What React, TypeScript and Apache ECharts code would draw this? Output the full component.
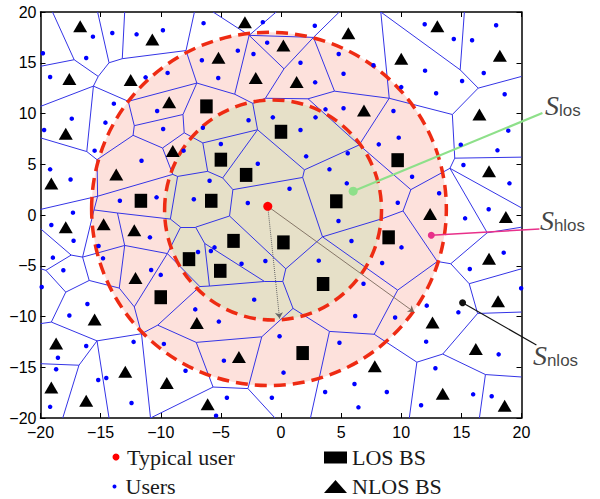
import { useEffect, useRef } from "react";
import * as echarts from "echarts";

// ---- data (all in plot units, metres) ----

const typicalUser: [number, number] = [-1.1, 0.85];

// LOS base stations
const losBS: [number, number][] = [
  [-6.2, 10.7], [0.0, 8.2], [-5.0, 5.45], [-2.9, 3.95], [-5.8, 1.4], [-11.65, 1.4],
  [9.7, 5.4], [4.6, 1.35], [-3.95, -2.55], [-7.65, -4.35], [-5.05, -5.5], [-10.0, -8.1],
  [0.2, -2.7], [8.95, -2.2], [3.5, -6.8], [1.8, -13.6],
];

// NLOS base stations
const nlosBS: [number, number][] = [
  [-16.7, 18.6], [-10.7, 17.3], [-3.0, 19.0], [-17.6, 13.4], [-12.5, 13.3], [-5.2, 15.5],
  [-2.1, 13.5], [-9.3, 11.1], [-17.9, 8.0], [-9.0, 6.3], [-13.7, 4.0], [-19.1, 3.1],
  [0.2, 16.7], [5.6, 17.9], [13.0, 18.6], [1.3, 13.1], [10.0, 15.4], [18.2, 15.7],
  [6.9, 10.3], [16.5, 9.9], [17.3, 4.3],
  [-17.9, -1.2], [-14.75, -0.9], [-12.2, -1.5], [-12.1, -6.2], [-15.5, -10.3], [-18.7, -12.65],
  [-7.0, -10.65], [-3.5, -14.0], [-12.95, -15.45], [-9.5, -16.55], [-19.1, -17.0], [-16.2, -18.3],
  [-6.1, -18.65],
  [12.4, 0.1], [18.7, -0.2], [17.3, -4.3], [18.05, -8.5], [12.6, -10.6], [16.2, -13.2],
  [7.8, -14.9], [13.45, -17.6], [18.6, -18.8],
];

// user positions
const users: [number, number][] = [
  [-19.8, 15.93], [-15.64, 17.57], [-14.03, 17.93], [-12.01, 17.8], [-9.82, 18.2], [-6.44, 18.9],
  [-16.2, 15.47], [-19.2, 13.6], [-11.26, 13.56], [-9.43, 14.0], [-6.58, 15.24], [-5.22, 13.5],
  [-3.59, 16.19], [-2.29, 15.86], [-1.51, 19.0], [-1.15, 16.98], [-19.7, 8.37], [-17.4, 9.49],
  [-13.9, 10.97], [-14.6, 9.1], [-10.3, 10.25], [-9.8, 8.47], [-6.5, 8.6], [-5.0, 7.0], [-2.7, 9.33],
  [-0.68, 9.62], [-15.5, 6.34], [-11.6, 5.35], [-8.1, 6.34], [-19.2, 4.5], [-17.5, 3.5],
  [-1.93, 5.05], [-5.94, 3.38], [-13.4, 1.41], [-10.35, 1.74], [-7.25, 1.55], [-2.76, 1.18],
  [-17.3, 0.23],
  [2.81, 18.65], [11.95, 18.79], [14.37, 17.34], [15.89, 17.21], [17.89, 18.69], [4.8, 15.86],
  [1.62, 15.0], [5.2, 13.92], [2.84, 13.07], [7.69, 14.75], [11.98, 14.22], [15.06, 13.2],
  [16.86, 13.99], [10.0, 12.6], [12.9, 11.99], [18.6, 11.89], [3.7, 10.41], [5.2, 10.51],
  [2.87, 9.62], [1.62, 8.37], [9.35, 10.25], [9.79, 7.62], [8.13, 6.96], [18.9, 8.31],
  [14.95, 6.93], [18.0, 6.37], [2.09, 5.78], [5.55, 6.08], [4.03, 4.5], [10.9, 3.77],
  [15.17, 4.93], [19.0, 3.12], [0.71, 2.59], [5.47, 3.12], [13.15, 2.14], [9.71, 1.21],
  [17.27, 0.56],
  [-19.1, -0.99], [-17.25, -2.53], [-15.17, -3.05], [-14.8, -4.27], [-18.97, -4.2], [-18.1, -5.45],
  [-19.9, -7.1], [-16.1, -8.77], [-17.6, -9.9], [-10.9, -2.2], [-10.8, -5.42], [-10.0, -5.9],
  [-6.9, -3.65], [-5.83, -3.55], [-5.53, -3.19], [-3.28, -4.8], [-1.3, -4.53], [-7.13, -9.3],
  [-5.17, -10.5], [-2.23, -8.34], [-12.26, -12.5], [-9.74, -12.7], [-16.2, -12.9], [-18.55, -14.06],
  [-18.7, -15.2], [-15.2, -16.26], [-14.53, -16.06], [-7.94, -15.34], [-4.75, -14.35], [-12.43, -18.52],
  [-4.5, -18.0], [-19.2, -18.9], [-5.4, -19.77], [-0.76, -18.0],
  [15.31, -0.33], [4.78, -0.59], [5.86, -2.56], [10.02, -3.19], [3.14, -4.5], [8.41, -4.73],
  [15.7, -5.32], [18.52, -3.71], [19.97, -7.22], [6.86, -6.77], [12.12, -8.93], [14.75, -9.59],
  [6.17, -9.95], [9.49, -10.1], [-0.12, -11.95], [4.86, -12.58], [12.07, -12.48], [18.1, -13.73],
  [0.21, -15.53], [12.84, -15.1], [3.67, -17.44], [6.11, -16.65], [8.8, -17.44], [6.44, -18.95],
  [11.65, -18.75], [15.98, -17.67], [17.52, -17.86],
];

// region boundaries: [centre x, centre y, semi-axis x, semi-axis y]
const losRegion = [-0.66, 0.49, 9.02, 10.84];
const hlosRegion = [-1.0, 0.6, 14.75, 17.4];

// distance indicators from the typical user to the region edges
const radiusEnds: [number, number][] = [[-0.12, -10.2], [11.07, -9.56]];

// sample users of each region and their callouts
const regionSubscripts = ["los", "hlos", "nlos"];
const regionPoints: [number, number][] = [[6.0, 2.35], [12.5, -2.0], [15.1, -8.64]];
const calloutEnds: [number, number][] = [[21.74, 10.05], [21.49, -1.38], [21.24, -12.81]];
const calloutText: [number, number][] = [[21.99, 10.74], [21.57, -0.59], [20.99, -13.89]];

// cell tessellation: vertices and the edges joining them
const cellVertices: Record<string, [number, number]> = {
  A: [-19.0, 20], B: [-17.2, 15.3], Bl: [-20, 14.65], C: [-15.2, 13.65], D: [-14.3, 15.0], Dt: [-15.25, 20],
  F: [-13.2, 15.4], Ft: [-13.0, 20], G: [-7.9, 16.2], Gt: [-7.2, 20], H: [-7.0, 13.0], E: [-15.6, 12.7],
  El: [-20, 10.7], I: [-12.7, 11.2], J: [-12.2, 8.8], J2: [-12.3, 7.85], K: [-8.15, 9.9], K2: [-8.05, 8.1],
  L: [-9.85, 6.6], M: [-9.0, 4.0], M2: [-8.6, 3.8], N: [-15.25, 1.85], Nl: [-20, 0.55], N2: [-15.55, 0.5],
  O: [-16.15, 6.25], Ol: [-20, 7.6], P: [-15.3, 5.45],
  Q: [-2.65, 17.7], Qt1: [-5.65, 20], Qt2: [-0.4, 20], R: [2.7, 17.5], Rt: [4.85, 20], T: [0.25, 14.4],
  S: [-3.85, 11.9], U: [-1.3, 11.5], V: [-2.35, 11.0], W: [2.25, 11.45], X: [4.45, 12.2], Y: [-1.95, 8.4],
  Z: [-6.5, 7.1], AA: [-6.1, 4.3], AB: [-4.85, 3.65], AC: [-4.0, 2.5], AD: [1.95, 4.45], AE: [1.8, 3.7],
  AG: [6.5, 6.9],
  TT: [8.3, 20], BB: [9.0, 11.5], BC: [14.9, 14.3], BCt: [15.25, 20], BD: [16.4, 12.5], BDr: [20, 13.65],
  BE: [14.25, 9.9], BF: [14.45, 5.6], BFr: [20, 5.7], BG: [14.05, 4.6], BGr: [20, 0.7], BH: [10.8, 2.5],
  BI: [10.15, 0.4],
  L1: [-20, -1.35], L0: [-17.45, -3.95], Q1: [-16.5, -4.15], Q2: [-19.55, -5.45], L2: [-20, -5.3],
  Q3: [-17.9, -7.6], Q4: [-15.95, -6.45], Q5: [-19.1, -10.55], L5: [-20, -10.7], Q6: [-15.3, -12.4],
  Q7: [-11.6, -11.7], Q8: [-16.8, -14.8], L8: [-20, -14.65], Q8b: [-18.15, -20], Q6b: [-14.3, -20],
  Q9: [-13.0, -3.0], Q10: [-13.6, 0.2], Q11: [-9.2, -0.4], Q12: [-13.45, -7.2], Q13: [-12.2, -9.05],
  Q14: [-9.45, -3.8], Q15: [-8.35, -1.2], Q16: [-6.75, -7.05], Q17: [-10.25, -10.85], Q18: [-7.05, -12.55],
  Q19: [-1.6, -12.0], Q20: [-5.65, -16.95], Q21: [-2.75, -17.1], Q21b: [-0.5, -20], Q22: [-10.85, -20],
  E1: [-4.28, -0.1], E2: [0.4, -5.3], E4: [0.15, -6.55], E5: [-6.35, -2.8], E6: [-7.1, -1.2],
  E7: [-5.95, -7.0], E8: [-1.37, -6.55], E9: [1.0, -9.2], E10: [4.03, -11.47], E10b: [2.45, -20],
  C1: [3.45, -2.15], C2: [8.45, -0.35],
  D1: [13.0, -4.58], D2: [9.7, -7.4], D3: [14.12, -4.8], D4: [17.15, -1.75], D4r: [20, -1.2],
  D5: [15.65, -6.77], D5r: [20, -5.3], D6: [16.35, -9.7], D6r: [20, -9.56], D7: [13.45, -13.7],
  D8: [11.3, -14.5], D8b: [10.67, -20], D9: [17.0, -15.72], D9r: [20, -15.96], D9b: [16.5, -20],
  D10: [7.75, -11.75],
};

const cellEdges: string[] = [
  "A-B", "B-Bl", "B-C", "C-D", "D-Dt", "D-F", "F-Ft", "F-G", "G-Gt", "G-H", "C-E", "E-El", "E-I", "E-O",
  "I-H", "I-J", "J-J2", "J-K", "K-H", "K-K2", "K2-L", "L-J2", "L-M", "M-M2", "M-N", "J2-P", "P-O", "P-N",
  "O-Ol", "N-Nl", "N-N2", "N2-Q1", "N2-Q10", "M2-AA", "M2-Q11", "K2-Z",
  "H-S", "S-Q", "S-V", "Q-Qt1", "Q-Qt2", "Q-R", "Q-T", "T-R", "T-U", "U-V", "U-W", "W-X", "X-R", "R-Rt",
  "W-AG", "V-Y", "Y-Z", "Y-AD", "Y-AB", "Z-AA", "AA-AB", "AB-AC", "AC-AE", "AE-AD", "AD-AG", "AC-E1", "AE-C1",
  "X-BB", "TT-BB", "TT-BC", "BC-BCt", "BC-BD", "BD-BDr", "BD-BE", "BE-BB", "BE-BF", "BF-BFr", "BF-BG",
  "BG-BGr", "BG-BH", "BH-AG", "BB-AG", "BH-BI", "BI-C2", "C2-C1", "BG-D4", "BI-D1",
  "L1-L0", "L0-Q1", "L0-Q2", "Q2-L2", "Q2-Q3", "Q1-Q4", "Q1-Q9", "Q4-Q3", "Q4-Q12", "Q3-Q5", "Q5-L5",
  "Q5-Q6", "Q6-Q7", "Q6-Q8", "Q6-Q6b", "Q8-L8", "Q8-Q8b", "Q10-Q9", "Q10-Q11", "Q11-Q15", "Q9-Q12",
  "Q9-Q14", "Q12-Q13", "Q13-Q14", "Q13-Q7", "Q14-Q15", "Q14-Q16", "Q15-E6", "Q7-Q17", "Q7-Q22",
  "Q17-Q16", "Q17-Q18", "Q18-Q19", "Q18-Q20", "Q20-Q21", "Q20-Q22", "Q21-Q19", "Q21-Q21b", "Q16-E7",
  "E6-E1", "E6-E5", "E1-E2", "E5-E7", "E5-E8", "E7-E8", "E8-E4", "E4-E2", "E2-C1", "E4-E9", "E9-Q19",
  "E9-E10", "E10-E10b", "E10-D10", "C1-D2",
  "D1-D2", "D1-D3", "D3-D4", "D4-D4r", "D3-D5", "D5-D5r", "D5-D6", "D6-D6r", "D6-D7", "D7-D8", "D7-D9",
  "D9-D9r", "D9-D9b", "D8-D8b", "D8-D10", "D10-D2",
];

const AXIS_FONT = "'Liberation Sans', Arial, sans-serif";
const SERIF_FONT = "'Liberation Serif', 'Times New Roman', serif";
const minus = (v: number) => String(v).replace("-", "\u2212");

function ellipseSeries(region: number[], style: Record<string, unknown>, z: number) {
  return {
    type: "custom",
    coordinateSystem: "cartesian2d",
    silent: true,
    z,
    data: [region],
    renderItem: (_params: unknown, api: any) => {
      const c = api.coord([api.value(0), api.value(1)]);
      const s = api.size([api.value(2), api.value(3)]);
      return {
        type: "ellipse",
        shape: { cx: c[0], cy: c[1], rx: s[0], ry: s[1] },
        style,
      };
    },
  };
}

function legendFor(name: string, left: number, top: number, w: number, h: number) {
  return {
    data: [name],
    left,
    top,
    padding: 0,
    itemWidth: w,
    itemHeight: h,
    selectedMode: false,
    textStyle: { fontFamily: SERIF_FONT, fontSize: 22, color: "#1a1a1a" },
  };
}

export default function App() {
  const ref = useRef<HTMLDivElement>(null);

  useEffect(() => {
    if (!ref.current) return;
    const chart = echarts.init(ref.current, null, { renderer: "svg" });

    const frameAxis = (showLabel: boolean) => ({
      type: "value",
      min: -20,
      max: 20,
      interval: 5,
      axisLine: { show: true, onZero: false, lineStyle: { color: "#000", width: 1.5 } },
      axisTick: { show: true, inside: true, length: 5, lineStyle: { color: "#000", width: 1 } },
      splitLine: { show: false },
      axisLabel: {
        show: showLabel,
        formatter: minus,
        fontFamily: AXIS_FONT,
        fontSize: 16,
        color: "#000",
      },
    });

    const option = {
      animation: false,
      grid: { left: 40.5, top: 12, width: 481, height: 406 },
      xAxis: [
        { ...frameAxis(true), position: "bottom", axisLabel: { ...frameAxis(true).axisLabel, margin: 6 } },
        { ...frameAxis(false), position: "top" },
      ],
      yAxis: [
        { ...frameAxis(true), position: "left", axisLabel: { ...frameAxis(true).axisLabel, margin: 4 } },
        { ...frameAxis(false), position: "right" },
      ],
      legend: [
        legendFor("Typical user", 112.5, 446, 12, 7),
        legendFor("Users", 112.5, 475.5, 12, 4),
        legendFor("LOS BS", 324, 446.5, 23, 12),
        legendFor("NLOS BS", 324, 475.5, 23, 13),
      ],
      series: [
        ellipseSeries(hlosRegion, { fill: "#fde1dc", stroke: null }, 1),
        ellipseSeries(losRegion, { fill: "#e6e0c8", stroke: null }, 1),
        {
          type: "lines",
          coordinateSystem: "cartesian2d",
          silent: true,
          z: 2,
          lineStyle: { color: "#3434e6", width: 1, opacity: 1 },
          data: cellEdges.map((e) => {
            const [a, b] = e.split("-");
            return { coords: [cellVertices[a], cellVertices[b]] };
          }),
        },
        ellipseSeries(hlosRegion, { fill: "none", stroke: "#ee2b13", lineWidth: 3.5, lineDash: [12, 7] }, 3),
        ellipseSeries(losRegion, { fill: "none", stroke: "#ee2b13", lineWidth: 3.5, lineDash: [12, 7] }, 3),
        {
          type: "lines",
          coordinateSystem: "cartesian2d",
          silent: true,
          z: 4,
          symbol: ["none", "arrow"],
          symbolSize: 6,
          data: [
            { coords: [typicalUser, radiusEnds[0]], lineStyle: { color: "#666", width: 1, type: "dotted" } },
            { coords: [typicalUser, radiusEnds[1]], lineStyle: { color: "#7a6a5c", width: 0.9 } },
          ],
          lineStyle: { opacity: 1 },
        },
        {
          type: "lines",
          coordinateSystem: "cartesian2d",
          silent: true,
          clip: false,
          z: 4,
          lineStyle: { opacity: 1 },
          data: [
            { coords: [regionPoints[0], calloutEnds[0]], lineStyle: { color: "#8ee08a", width: 2.2 } },
            { coords: [regionPoints[1], calloutEnds[1]], lineStyle: { color: "#e8308a", width: 1.5 } },
            { coords: [regionPoints[2], calloutEnds[2]], lineStyle: { color: "#111", width: 1.2 } },
          ],
        },
        {
          name: "Users",
          type: "scatter",
          z: 5,
          silent: true,
          symbol: "circle",
          symbolSize: 4.5,
          itemStyle: { color: "#0000ff", opacity: 1 },
          data: users,
        },
        {
          type: "scatter",
          z: 6,
          silent: true,
          symbol: "circle",
          data: [
            { value: regionPoints[0], symbolSize: 9, itemStyle: { color: "#8ee08a", opacity: 1 } },
            { value: regionPoints[1], symbolSize: 7, itemStyle: { color: "#e8308a", opacity: 1 } },
            { value: regionPoints[2], symbolSize: 7, itemStyle: { color: "#111", opacity: 1 } },
          ],
        },
        {
          name: "LOS BS",
          type: "scatter",
          z: 6,
          silent: true,
          symbol: "rect",
          symbolSize: [12.5, 14],
          itemStyle: { color: "#000", opacity: 1 },
          data: losBS,
        },
        {
          name: "NLOS BS",
          type: "scatter",
          z: 6,
          silent: true,
          symbol: "triangle",
          symbolSize: [14, 12],
          itemStyle: { color: "#000", opacity: 1 },
          data: nlosBS,
        },
        {
          name: "Typical user",
          type: "scatter",
          z: 7,
          silent: true,
          symbol: "circle",
          symbolSize: 9,
          itemStyle: { color: "#ff0000", opacity: 1 },
          data: [typicalUser],
        },
        {
          type: "scatter",
          z: 7,
          silent: true,
          clip: false,
          symbolSize: 1,
          itemStyle: { color: "rgba(0,0,0,0)" },
          data: calloutText,
          label: {
            show: true,
            position: [0, 0],
            align: "left",
            verticalAlign: "middle",
            formatter: (p: any) => `{s|S}{sub|${regionSubscripts[p.dataIndex]}}`,
            rich: {
              s: {
                fontFamily: SERIF_FONT,
                fontStyle: "italic",
                fontSize: 28,
                lineHeight: 28,
                color: "#111",
                verticalAlign: "bottom",
              },
              sub: {
                fontFamily: AXIS_FONT,
                fontSize: 17,
                lineHeight: 17,
                color: "#111",
                verticalAlign: "bottom",
              },
            },
          },
        },
      ],
    };

    chart.setOption(option as any);
    return () => chart.dispose();
  }, []);

  return (
    <div
      ref={ref}
      style={{ position: "absolute", left: 0, top: 0, width: 600, height: 499, background: "#fff" }}
    />
  );
}
